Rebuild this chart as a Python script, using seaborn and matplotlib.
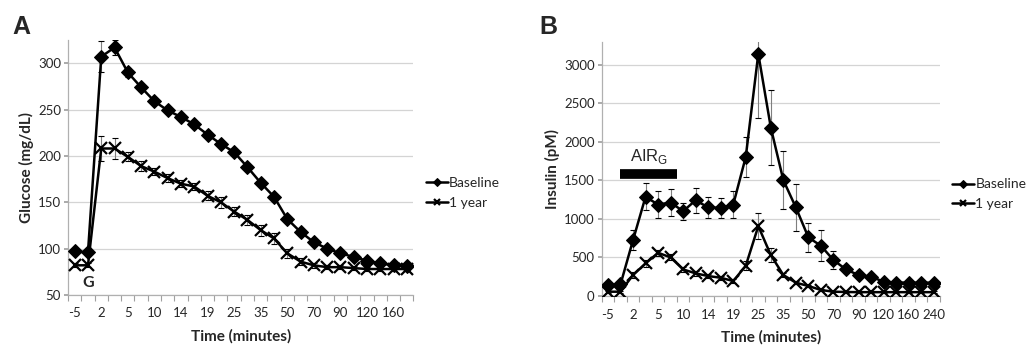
import numpy as np
import pandas as pd
import matplotlib
matplotlib.use("Agg")
import matplotlib.pyplot as plt
import seaborn as sns

# sample times (minutes) - plotted as categories, like the Excel original
times_a = [-5, -1, 2, 3, 5, 8, 10, 12, 14, 16, 19, 22, 25, 30, 35, 40,
           50, 60, 70, 80, 90, 100, 120, 140, 160, 180]
times_b = times_a + [240]

# glucose (mg/dL)
glu_base = [97, 96, 307, 317, 290, 274, 259, 249, 242, 234, 223, 213, 204, 188,
            171, 156, 132, 118, 107, 100, 95, 91, 87, 84, 82, 81]
glu_base_err = [3, 3, 17, 8, 5, 4, 3, 3, 3, 3, 3, 3, 3, 3,
                3, 3, 3, 3, 3, 2, 2, 2, 2, 2, 2, 2]
glu_1yr = [82, 82, 208, 208, 199, 189, 183, 176, 170, 167, 157, 150, 140, 131,
           120, 111, 95, 86, 82, 80, 80, 79, 78, 78, 78, 78]
glu_1yr_err = [2, 2, 14, 11, 5, 5, 4, 4, 4, 4, 5, 6, 5, 5,
               6, 6, 5, 4, 3, 2, 2, 2, 2, 2, 2, 2]

# insulin (pM)
ins_base = [145, 150, 725, 1287, 1187, 1213, 1101, 1243, 1149, 1144, 1187, 1805,
            3143, 2185, 1503, 1149, 760, 652, 466, 345, 272, 250, 186, 175, 173,
            173, 173]
ins_base_err = [30, 30, 130, 175, 170, 170, 110, 160, 140, 130, 180, 255,
                830, 490, 380, 305, 190, 200, 120, 40, 30, 25, 20, 20, 20, 20, 20]
ins_1yr = [56, 56, 272, 423, 561, 501, 345, 294, 259, 237, 194, 393,
           907, 531, 272, 173, 130, 78, 56, 52, 50, 50, 50, 50, 50, 50, 50]
ins_1yr_err = [15, 15, 40, 50, 40, 40, 30, 30, 25, 25, 25, 60,
               165, 95, 30, 20, 15, 10, 10, 10, 10, 10, 10, 10, 10, 10, 10]

groups = ["Baseline", "1 year"]

sns.set_theme(style="white")
plt.rcParams["font.family"] = ["Lato", "DejaVu Sans"]


def make_df(times, base, yr):
    rows = []
    for i, t in enumerate(times):
        rows.append({"pos": i, "time": t, "value": base[i], "group": "Baseline"})
        rows.append({"pos": i, "time": t, "value": yr[i], "group": "1 year"})
    return pd.DataFrame(rows)


def draw_panel(ax, times, base, base_err, yr, yr_err, ylim, yticks, ylabel):
    df = make_df(times, base, yr)
    pos = np.arange(len(times))
    # grey SEM bars underneath
    for vals, errs in [(base, base_err), (yr, yr_err)]:
        ax.errorbar(pos, vals, yerr=errs, fmt="none", ecolor="#7f7f7f",
                    elinewidth=0.8, capsize=2.5, capthick=0.8, zorder=2)
    sns.lineplot(data=df, x="pos", y="value", hue="group", style="group",
                 hue_order=groups, style_order=groups,
                 palette={"Baseline": "black", "1 year": "black"},
                 markers={"Baseline": "D", "1 year": "X"}, dashes=False,
                 linewidth=1.8, markersize=7, ax=ax, zorder=3)
    # make the 1 year marker a plain cross like Excel
    for line in ax.get_lines():
        if line.get_marker() == "X":
            line.set_marker("x")
            line.set_markersize(8)
            line.set_markeredgewidth(1.6)
        line.set_markeredgecolor("black")

    ax.set_xlim(-0.5, len(times) - 0.5)
    ax.set_ylim(*ylim)
    ax.set_yticks(yticks)
    ax.set_xticks(pos[::2])
    ax.set_xticklabels([str(t) for t in times[::2]])
    ax.set_xticks(np.arange(len(times) + 1) - 0.5, minor=True)
    ax.tick_params(axis="x", which="major", length=0, labelsize=9.5, pad=9)
    ax.tick_params(axis="x", which="minor", length=4, color="#a0a0a0",
                   width=0.8, direction="out", bottom=True)
    ax.tick_params(axis="y", length=3, color="#a0a0a0", labelsize=9.5,
                   left=True, pad=2)
    ax.grid(axis="y", color="#d4d4d4", linewidth=0.9)
    ax.set_axisbelow(True)
    for side in ["top", "right"]:
        ax.spines[side].set_visible(False)
    for side in ["left", "bottom"]:
        ax.spines[side].set_color("#b0b0b0")
        ax.spines[side].set_linewidth(0.9)
    ax.set_xlabel("Time (minutes)", fontsize=11, fontweight="bold", labelpad=7)
    ax.set_ylabel(ylabel, fontsize=11, fontweight="bold", labelpad=3)

    handles, labels = ax.get_legend_handles_labels()
    ax.legend(handles, labels, loc="center left", bbox_to_anchor=(1.035, 0.40),
              frameon=False, fontsize=10, handlelength=1.6, handletextpad=0.1,
              labelspacing=0.55, borderpad=0, borderaxespad=0, markerscale=0.6)


fig = plt.figure(figsize=(10.31, 3.45), dpi=100)
ax_a = fig.add_axes([0.066, 0.145, 0.335, 0.739])
ax_b = fig.add_axes([0.5836, 0.142, 0.3281, 0.737])

draw_panel(ax_a, times_a, glu_base, glu_base_err, glu_1yr, glu_1yr_err,
           (50, 325), [50, 100, 150, 200, 250, 300], "Glucose (mg/dL)")
draw_panel(ax_b, times_b, ins_base, ins_base_err, ins_1yr, ins_1yr_err,
           (0, 3300), [0, 500, 1000, 1500, 2000, 2500, 3000], "Insulin (pM)")

# glucose bolus marker
ax_a.text(1, 55, "G", ha="center", va="bottom", fontsize=11.5, fontweight="bold")

# acute insulin response window
ax_b.plot([1.0, 5.5], [1580, 1580], color="black", linewidth=7,
          solid_capstyle="butt", zorder=4)
ax_b.text(3.25, 1690, r"AIR$_\mathregular{G}$", ha="center", va="bottom",
          fontsize=12, family="Liberation Sans")

fig.text(0.012, 0.9, "A", fontsize=18, fontweight="bold", family="Liberation Sans")
fig.text(0.523, 0.9, "B", fontsize=18, fontweight="bold", family="Liberation Sans")

fig.savefig("out.png", dpi=100)
